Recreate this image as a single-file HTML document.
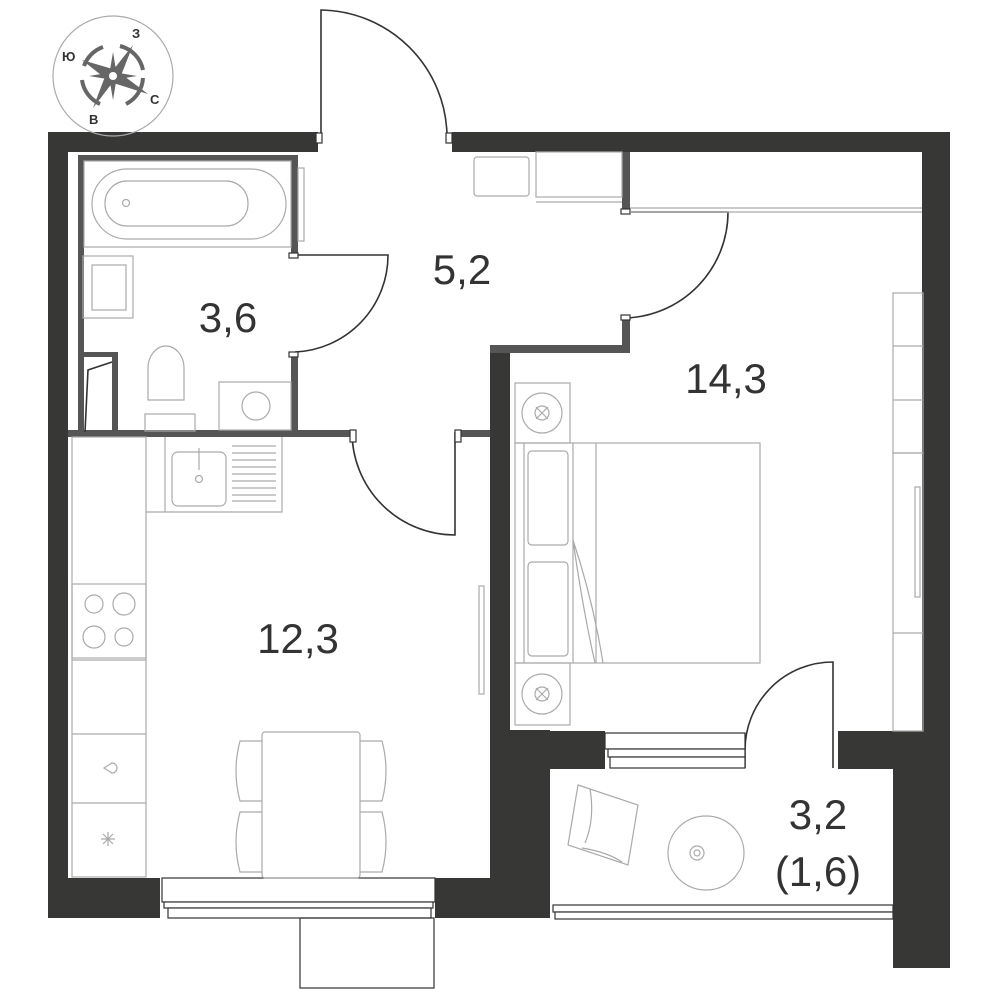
<!DOCTYPE html>
<html><head><meta charset="utf-8"><style>
html,body{margin:0;padding:0;background:#fff;}
svg{display:block;}
text{font-family:"Liberation Sans",sans-serif;fill:#333;}
</style></head><body>
<svg width="1000" height="1000" viewBox="0 0 1000 1000" xmlns="http://www.w3.org/2000/svg">
<g fill="#373736">
<rect x="48" y="132" width="270" height="20"/>
<rect x="452" y="132" width="498" height="20"/>
<rect x="922" y="132" width="28" height="600"/>
<rect x="48" y="132" width="20" height="786"/>
<rect x="48" y="878" width="112" height="40"/>
<rect x="435" y="878" width="115" height="40"/>
<rect x="490" y="730" width="60" height="188"/>
<rect x="490" y="345" width="20" height="533"/>
<rect x="550" y="731" width="55" height="38"/>
<rect x="838" y="731" width="62" height="38"/>
<rect x="893" y="731" width="57" height="237"/>
</g>
<g fill="#555">
<rect x="78" y="155" width="220" height="6"/>
<rect x="78" y="155" width="6" height="280"/>
<rect x="291" y="155" width="7" height="100"/>
<rect x="291" y="355" width="7" height="80"/>
<rect x="68" y="430" width="230" height="7"/>
<rect x="298" y="430" width="54" height="7"/>
<rect x="458" y="430" width="32" height="7"/>
<rect x="112" y="352" width="6" height="80"/>
<rect x="84" y="352" width="30" height="5"/>
<rect x="622" y="152" width="8" height="60"/>
<rect x="622" y="318" width="8" height="34"/>
<rect x="490" y="345" width="140" height="8"/>
</g>
<g fill="none" stroke="#333" stroke-width="1.6">
<path d="M321 135 V10 A128 128 0 0 1 447 135"/>
<path d="M295 255 H388 A97 97 0 0 1 295 352"/>
<path d="M625 212 H728 A106 106 0 0 1 625 318"/>
<path d="M352 432 A103 103 0 0 0 455 535 V432"/>
<path d="M833 768 V662 A88 88 0 0 0 745 750 V768"/>
<path d="M85 432 L88 370 L112 362"/>
</g>
<g fill="#fff" stroke="#333" stroke-width="1.2">
<rect x="316" y="133" width="6" height="10"/>
<rect x="446" y="133" width="6" height="10"/>
<rect x="289" y="253" width="9" height="5"/>
<rect x="289" y="352" width="9" height="5"/>
<rect x="621" y="209" width="9" height="5"/>
<rect x="621" y="315" width="9" height="5"/>
<rect x="350" y="430" width="6" height="12"/>
<rect x="455" y="430" width="6" height="12"/>
<rect x="162" y="878" width="273" height="24"/>
<rect x="164" y="902" width="269" height="6"/>
<rect x="168" y="908" width="263" height="10"/>
<rect x="300" y="918" width="134" height="70" fill="none"/>
<rect x="605" y="733" width="140" height="16"/>
<rect x="608" y="749" width="137" height="8"/>
<rect x="610" y="757" width="135" height="11"/>
<rect x="553" y="905" width="340" height="7"/>
<rect x="555" y="912" width="338" height="7"/>
</g>
<g fill="none" stroke="#aaa" stroke-width="1.2">
<rect x="92" y="169" width="194" height="70" rx="35"/>
<rect x="105" y="181" width="143" height="45" rx="22"/>
<circle cx="126" cy="203" r="3.5"/>
<rect x="84" y="161" width="207" height="86"/>
<rect x="298" y="168" width="6" height="73"/>
<rect x="83" y="256" width="50" height="62"/>
<rect x="92" y="265" width="34" height="45"/>
<path d="M148 368 a18 22 0 0 1 36 0 v32 h-36z"/>
<rect x="145" y="414" width="50" height="17"/>
<rect x="219" y="382" width="72" height="48"/>
<circle cx="256" cy="406" r="14"/>
<rect x="72" y="437" width="74" height="440"/>
<path d="M146 512 H165 V437 M165 437 V512 H282 V437"/>
<rect x="172" y="452" width="54" height="54" rx="6"/>
<circle cx="199" cy="479" r="3.5"/>
<line x1="199" y1="448" x2="199" y2="470"/>
<path d="M232 446 H276 M232 453 H276 M232 460 H276 M232 467 H276 M232 474 H276 M232 481 H276 M232 488 H276 M232 495 H276 M232 501 H276"/>
<rect x="72" y="584" width="74" height="74"/>
<circle cx="94" cy="604" r="9"/><circle cx="124" cy="604" r="11"/>
<circle cx="94" cy="637" r="11"/><circle cx="124" cy="637" r="9"/>
<line x1="72" y1="660" x2="146" y2="660"/>
<line x1="72" y1="734" x2="146" y2="734"/>
<line x1="72" y1="803" x2="146" y2="803"/>
<path d="M104 768 l8 -5 a5 5 0 0 1 0 10z"/>
<path d="M108 832 v14 M101 839 h14 M103 834 l10 10 M113 834 l-10 10"/>
<rect x="262" y="732" width="98" height="146" rx="3"/>
<path d="M262 741 h-22 q-8 30 0 60 h22 M262 812 h-22 q-8 30 0 60 h22"/>
<path d="M360 741 h22 q8 30 0 60 h-22 M360 812 h22 q8 30 0 60 h-22"/>
<rect x="479" y="586" width="5" height="108"/>
<rect x="474" y="157" width="55" height="39" rx="3"/>
<rect x="536" y="152" width="86" height="45"/>
<line x1="536" y1="202" x2="622" y2="202"/>
<line x1="630" y1="208" x2="922" y2="208"/>
<line x1="630" y1="212" x2="922" y2="212"/>
<rect x="515" y="383" width="55" height="60"/>
<circle cx="542" cy="413" r="20"/>
<path d="M536 407 l12 12 M548 407 l-12 12"/><circle cx="542" cy="413" r="7"/>
<rect x="515" y="663" width="55" height="62"/>
<circle cx="542" cy="694" r="20"/>
<path d="M536 688 l12 12 M548 688 l-12 12"/><circle cx="542" cy="694" r="7"/>
<rect x="515" y="443" width="245" height="220"/>
<line x1="524" y1="443" x2="524" y2="663"/>
<line x1="573" y1="443" x2="573" y2="663"/>
<line x1="596" y1="443" x2="596" y2="663"/>
<rect x="528" y="451" width="40" height="94" rx="4"/>
<rect x="528" y="562" width="40" height="94" rx="4"/>
<path d="M573 540 q20 60 30 123 M573 540 q10 70 22 123"/>
<rect x="893" y="293" width="30" height="160"/>
<line x1="893" y1="346" x2="923" y2="346"/>
<line x1="893" y1="400" x2="923" y2="400"/>
<rect x="893" y="453" width="30" height="278"/>
<line x1="893" y1="633" x2="923" y2="633"/>
<rect x="915" y="487" width="5" height="110"/>
<path d="M578 785 l60 20 l-10 60 l-60 -20z M590 789 q5 30 -5 54 M582 848 q25 4 40 14"/>
<ellipse cx="706" cy="853" rx="38" ry="37"/>
<circle cx="697" cy="853" r="7"/><circle cx="697" cy="853" r="3"/>
<circle cx="113" cy="76" r="60"/>
</g>
<g fill="none" stroke="#666" stroke-width="4">
<path d="M82 80 A31 31 0 0 0 100 104 M126 104 A31 31 0 0 0 143 78 M143 70 A31 31 0 0 0 120 46 M103 47 A31 31 0 0 0 84 66"/>
</g>
<g fill="#666">
<polygon points="131,45 118,72 113,76 108,80 95,108 108,80 113,76 118,72"/>
<polygon points="133,45 120,78 110,74"/>
<polygon points="93,108 106,74 116,78"/>
<polygon points="82,60 116,70 110,82"/>
<polygon points="148,94 110,82 116,70"/>
<polygon points="113,52 117,76 109,76"/>
<polygon points="113,100 117,76 109,76"/>
<polygon points="89,76 113,72 113,80"/>
<polygon points="137,76 113,72 113,80"/>
<circle cx="113" cy="76" r="8"/>
</g>
<circle cx="113" cy="76" r="4" fill="#fff"/>
<g font-size="13" font-weight="bold" style="fill:#666">
<text x="62" y="61">Ю</text><text x="132" y="38">З</text>
<text x="150" y="104">С</text><text x="89" y="124">В</text>
</g>
<g font-size="42">
<text x="228" y="332" text-anchor="middle">3,6</text>
<text x="462" y="284" text-anchor="middle">5,2</text>
<text x="726" y="393" text-anchor="middle">14,3</text>
<text x="298" y="653" text-anchor="middle">12,3</text>
<text x="818" y="829" text-anchor="middle">3,2</text>
<text x="818" y="886" text-anchor="middle">(1,6)</text>
</g>
</svg>
</body></html>
